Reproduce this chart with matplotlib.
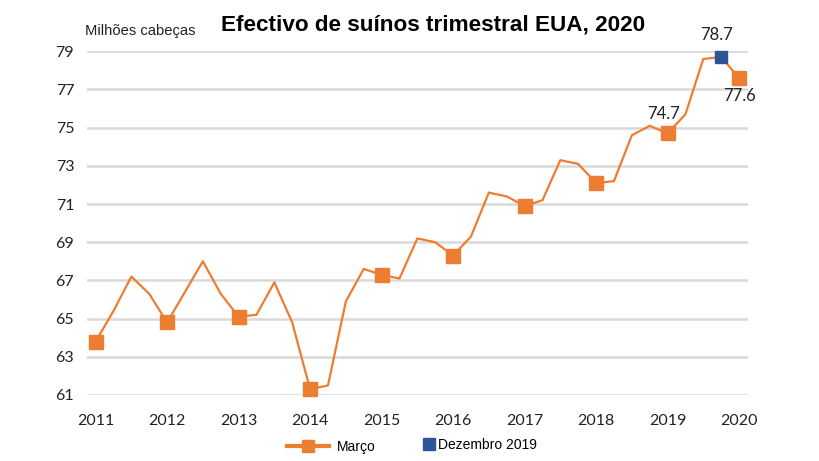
import numpy as np
import matplotlib.pyplot as plt
from matplotlib.lines import Line2D

# quarterly stock, Mar 2011 .. Mar 2020 (million head)
values = [63.8, 65.4, 67.2, 66.3,
          64.8, 66.4, 68.0, 66.3,
          65.1, 65.2, 66.9, 64.8,
          61.3, 61.5, 65.9, 67.6,
          67.3, 67.1, 69.2, 69.0,
          68.3, 69.3, 71.6, 71.4,
          70.9, 71.2, 73.3, 73.1,
          72.1, 72.2, 74.6, 75.1,
          74.7, 75.7, 78.6, 78.7,
          77.6]
years = ['2011', '2012', '2013', '2014', '2015', '2016', '2017', '2018', '2019', '2020']
dec2019_value = 78.7
labels = {32: '74.7', 35: '78.7', 36: '77.6'}

orange = '#ED7D31'
blue = '#2F5597'

x = np.arange(len(values))
march_idx = x[::4]
march_vals = [values[i] for i in march_idx]

fig = plt.figure(figsize=(8.2, 4.61), dpi=100)
ax = fig.add_axes([0.1057, 0.1432, 0.8065, 0.7455])

ax.plot(x, values, color=orange, lw=1.6, zorder=3, clip_on=False)
ax.plot(march_idx, march_vals, ls='none', marker='s', ms=10, color=orange, zorder=4, clip_on=False)
ax.plot([35], [dec2019_value], ls='none', marker='s', ms=8, color=blue, zorder=5, clip_on=False)

offsets = {32: (-0.25, 1.0), 35: (-0.25, 1.15), 36: (0.0, -0.95)}
for i, txt in labels.items():
    dx, dy = offsets[i]
    ax.text(i + dx, values[i] + dy, txt, ha='center', va='center', fontsize=12,
            family='Lato', color='#222222')

ax.set_xlim(-0.5, 36.5)
ax.set_ylim(61, 79)
ax.set_yticks(np.arange(61, 80, 2))
ax.set_xticks(march_idx)
ax.set_xticklabels(years)
ax.grid(axis='y', color='#d9d9d9', lw=1.8)
ax.set_axisbelow(True)
for s in ax.spines.values():
    s.set_visible(False)
ax.tick_params(length=0, labelsize=11.5, labelcolor='#222222')
ax.tick_params(axis='x', pad=14)
ax.tick_params(axis='y', pad=9)
for lab in ax.get_xticklabels() + ax.get_yticklabels():
    lab.set_family('Lato')

fig.text(0.528, 0.945, 'Efectivo de suínos trimestral EUA, 2020', ha='center', va='center',
         fontsize=16.2, fontweight='bold', family='Liberation Sans')
fig.text(0.104, 0.932, 'Milhões cabeças', ha='left', va='center', fontsize=10.6,
         family='Liberation Sans', color='#222222')

h1 = Line2D([], [], color=orange, lw=3, marker='s', ms=9)
h2 = Line2D([], [], ls='none', color=blue, marker='s', ms=8)
fig.legend([h1], ['Março'], loc='center left', bbox_to_anchor=(0.35, 0.03),
           frameon=False, prop={'family': 'Liberation Sans', 'size': 10},
           handlelength=3, handletextpad=0.6, borderaxespad=0, borderpad=0)
fig.legend([h2], ['Dezembro 2019'], loc='center left', bbox_to_anchor=(0.516, 0.035),
           frameon=False, prop={'family': 'Liberation Sans', 'size': 10},
           handlelength=0.8, handletextpad=0.3, borderaxespad=0, borderpad=0)

fig.savefig('out.png', dpi=100)
